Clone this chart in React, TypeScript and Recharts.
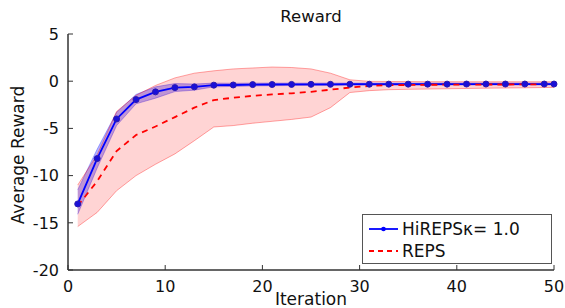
import React from 'react';
import { ComposedChart, Line, Area, XAxis, YAxis, Legend } from 'recharts';

const iterations = [1, 3, 5, 7, 9, 11, 13, 15, 17, 19, 21, 23, 25, 27, 29, 31, 33, 35, 37, 39, 41, 43, 45, 47, 49, 50];

const hirepsMean = [-13.0, -8.2, -4.0, -1.95, -1.13, -0.68, -0.6, -0.42, -0.4, -0.36, -0.35, -0.34, -0.33, -0.33, -0.32, -0.32, -0.31, -0.31, -0.31, -0.31, -0.3, -0.3, -0.3, -0.3, -0.3, -0.3];
const hirepsLow = [-14.1, -9.2, -4.7, -2.4, -1.8, -1.1, -0.95, -0.6, -0.55, -0.5, -0.48, -0.46, -0.45, -0.45, -0.44, -0.43, -0.42, -0.42, -0.42, -0.41, -0.41, -0.4, -0.4, -0.4, -0.4, -0.4];
const hirepsHigh = [-11.5, -7.2, -3.3, -1.4, -0.6, -0.25, -0.3, -0.2, -0.22, -0.2, -0.2, -0.2, -0.2, -0.2, -0.2, -0.2, -0.2, -0.2, -0.2, -0.2, -0.2, -0.2, -0.2, -0.2, -0.2, -0.2];

const repsMean = [-13.2, -10.6, -7.4, -5.7, -4.8, -3.8, -2.8, -2.0, -1.75, -1.55, -1.4, -1.28, -1.12, -0.9, -0.67, -0.5, -0.42, -0.4, -0.38, -0.37, -0.36, -0.35, -0.35, -0.34, -0.34, -0.33];
const repsLow = [-15.4, -13.9, -11.6, -10.0, -8.8, -7.7, -6.3, -4.85, -4.7, -4.45, -4.25, -4.05, -3.8, -2.8, -1.2, -1.0, -0.9, -0.86, -0.83, -0.8, -0.77, -0.74, -0.72, -0.7, -0.67, -0.66];
const repsHigh = [-11.0, -7.8, -3.2, -1.5, -0.45, 0.35, 0.85, 1.1, 1.3, 1.4, 1.5, 1.45, 1.3, 0.85, 0.15, -0.02, -0.03, -0.04, -0.05, -0.05, -0.06, -0.06, -0.06, -0.06, -0.06, -0.06];

const xTicks = [0, 10, 20, 30, 40, 50];
const yTicks = [-20, -15, -10, -5, 0, 5];

const data = iterations.map((it, i) => ({
  iter: it,
  hireps: hirepsMean[i],
  hirepsBand: [hirepsLow[i], hirepsHigh[i]],
  reps: repsMean[i],
  repsBand: [repsLow[i], repsHigh[i]],
}));

const FONT = 'DejaVu Sans, sans-serif';
const AXIS = '#333';

const XTick = (props: any) => {
  const { x, y, payload } = props;
  return (
    <g>
      <line x1={x} x2={x} y1={y} y2={y - 5} stroke={AXIS} strokeWidth={1} />
      <text x={x} y={y + 22} textAnchor="middle" fontSize={16} fontFamily={FONT} fill="#111">
        {payload.value}
      </text>
    </g>
  );
};

const YTick = (props: any) => {
  const { x, y, payload } = props;
  return (
    <g>
      <line x1={x} x2={x + 5} y1={y} y2={y} stroke={AXIS} strokeWidth={1} />
      <text x={x - 9} y={y} dy="0.36em" textAnchor="end" fontSize={16} fontFamily={FONT} fill="#111">
        {payload.value}
      </text>
    </g>
  );
};

const BlueDot = (props: any) => {
  const { cx, cy } = props;
  if (cx == null || cy == null) return null;
  return <circle cx={cx} cy={cy} r={3} fill="#1a0fd8" stroke="#2a1ab0" strokeWidth={1} />;
};

const YLabel = () => (
  <text
    x={18}
    y={155}
    transform="rotate(-90, 18, 155)"
    textAnchor="middle"
    dy="0.36em"
    fontSize={17}
    fontFamily={FONT}
    fill="#111"
  >
    Average Reward
  </text>
);

const XLabel = () => (
  <g>
    <text x={311} y={305} textAnchor="middle" fontSize={17} fontFamily={FONT} fill="#111">
      Iteration
    </text>
    <text x={311} y={22} textAnchor="middle" fontSize={16.5} fontFamily={FONT} fill="#111">
      Reward
    </text>
  </g>
);

const LegendBox = () => (
  <div
    style={{
      border: '1px solid #555',
      background: '#fff',
      width: 190,
      height: 50,
      fontFamily: FONT,
      fontSize: 17,
      color: '#111',
      boxSizing: 'border-box',
      padding: '3px 0 0 5px',
    }}
  >
    <div style={{ display: 'flex', alignItems: 'center', height: 22 }}>
      <svg width={31} height={12}>
        <line x1={1} x2={30} y1={6} y2={6} stroke="#0000ff" strokeWidth={1.8} />
        <circle cx={15.5} cy={6} r={2.3} fill="#0000ff" />
      </svg>
      <span style={{ marginLeft: 3 }}>HiREPSκ= 1.0</span>
    </div>
    <div style={{ display: 'flex', alignItems: 'center', height: 22 }}>
      <svg width={31} height={12}>
        <line x1={1} x2={30} y1={6} y2={6} stroke="#ff0000" strokeWidth={1.8} strokeDasharray="5 4" />
      </svg>
      <span style={{ marginLeft: 3 }}>REPS</span>
    </div>
  </div>
);

export default function App() {
  return (
    <div style={{ position: 'absolute', left: 0, top: 0, width: 565, height: 308, background: '#fff' }}>
      <ComposedChart width={565} height={308} data={data} margin={{ top: 34, right: 11, bottom: 0, left: 0 }}>
        <XAxis
          dataKey="iter"
          type="number"
          domain={[0, 50]}
          ticks={xTicks}
          height={38}
          tickSize={0}
          tickMargin={0}
          tickLine={false}
          tick={<XTick />}
          axisLine={{ stroke: AXIS, strokeWidth: 1.5 }}
          label={XLabel}
          interval={0}
        />
        <YAxis
          type="number"
          domain={[-20, 5]}
          ticks={yTicks}
          width={68}
          tickSize={0}
          tickMargin={0}
          tickLine={false}
          tick={<YTick />}
          axisLine={{ stroke: AXIS, strokeWidth: 1.5 }}
          label={YLabel}
          interval={0}
          allowDataOverflow
        />
        <Area
          dataKey="hirepsBand"
          type="linear"
          fill="#0000ff"
          fillOpacity={0.3}
          stroke="#0000ff"
          strokeOpacity={0.3}
          strokeWidth={1}
          isAnimationActive={false}
          activeDot={false}
          legendType="none"
        />
        <Line
          dataKey="hireps"
          type="linear"
          stroke="#0000ff"
          strokeWidth={1.8}
          dot={<BlueDot />}
          activeDot={false}
          isAnimationActive={false}
        />
        <Area
          dataKey="repsBand"
          type="linear"
          fill="#ff0000"
          fillOpacity={0.17}
          stroke="#ff0000"
          strokeOpacity={0.35}
          strokeWidth={1}
          isAnimationActive={false}
          activeDot={false}
          legendType="none"
        />
        <Line
          dataKey="reps"
          type="linear"
          stroke="#ff0000"
          strokeWidth={1.8}
          strokeDasharray="6 5"
          dot={false}
          activeDot={false}
          isAnimationActive={false}
        />
        <Legend
          layout="horizontal"
          verticalAlign="middle"
          content={<LegendBox />}
          wrapperStyle={{ left: 362, top: 214, width: 190, height: 50 }}
        />
      </ComposedChart>
    </div>
  );
}
